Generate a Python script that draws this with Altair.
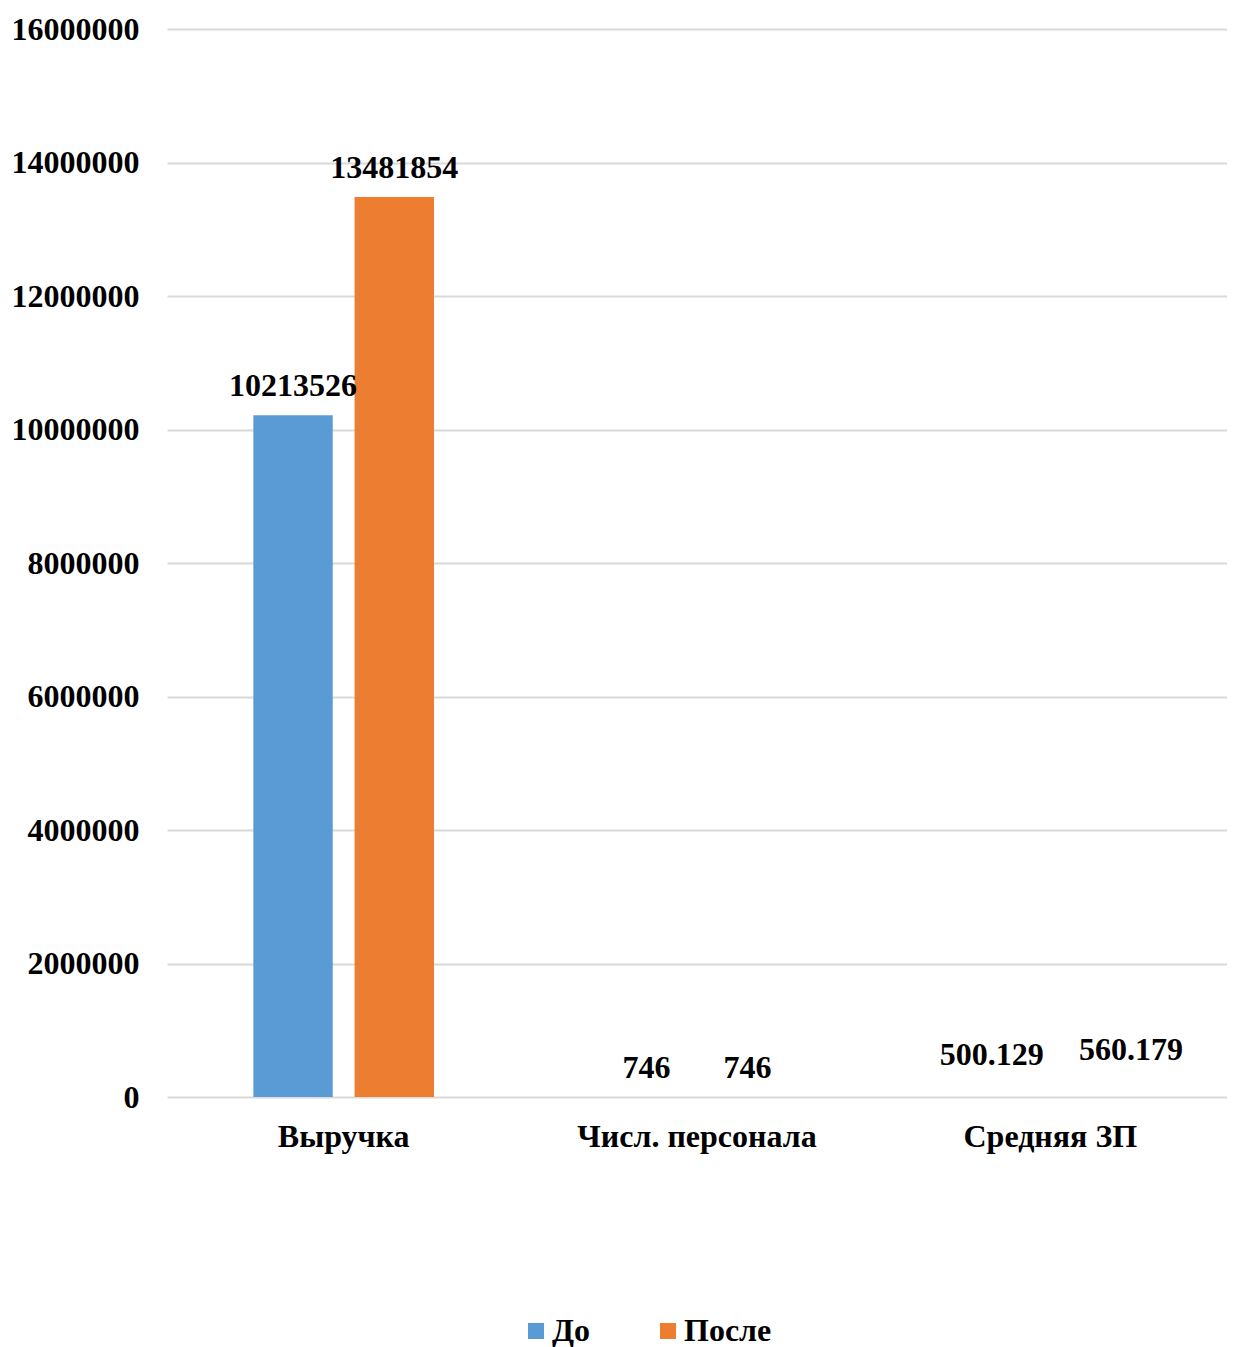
import altair as alt
import pandas as pd

categories = ["Выручка", "Числ. персонала", "Средняя ЗП"]
series = ["До", "После"]
values_before = [10213526, 746, 500.129]
values_after = [13481854, 746, 560.179]
colors = ["#5B9BD5", "#ED7D31"]
y_ticks = [0, 2000000, 4000000, 6000000, 8000000, 10000000, 12000000, 14000000, 16000000]

rows = []
for c, b, a in zip(categories, values_before, values_after):
    rows.append({"category": c, "series": series[0], "value": b, "label": str(b)})
    rows.append({"category": c, "series": series[1], "value": a, "label": str(a)})
df = pd.DataFrame(rows)

FONT = "Liberation Serif"
FS = 32

x_enc = alt.X("category:N", sort=categories,
              scale=alt.Scale(paddingInner=0, paddingOuter=0),
              axis=alt.Axis(title=None, labelAngle=0, domain=False, ticks=False, grid=False,
                            labelPadding=24, labelFontSize=FS, labelFont=FONT,
                            labelFontWeight="bold", labelColor="#000000", labelLimit=1000))
xo_enc = alt.XOffset("series:N", sort=series,
                     scale=alt.Scale(paddingInner=0.2157, paddingOuter=0.853))
y_enc = alt.Y("value:Q",
              scale=alt.Scale(domain=[0, 16000000], nice=False),
              axis=alt.Axis(title=None, values=y_ticks, format="d", domain=False,
                            ticks=False, labelPadding=28, labelFontSize=FS,
                            labelFont=FONT, labelFontWeight="bold",
                            labelColor="#000000", grid=True, gridColor="#D9D9D9",
                            gridWidth=2, minExtent=159))

base = alt.Chart(df)

bars = base.mark_bar().encode(
    x=x_enc, xOffset=xo_enc, y=y_enc,
    color=alt.Color("series:N", sort=series,
                    scale=alt.Scale(domain=series, range=colors),
                    legend=alt.Legend(title=None, orient="none", legendX=353, legendY=1286,
                                      direction="horizontal", symbolType="square",
                                      symbolSize=256, symbolStrokeWidth=0,
                                      labelFont=FONT, labelFontSize=FS,
                                      labelFontWeight="bold", labelColor="#000000",
                                      labelOffset=0, columnPadding=61, padding=0)),
)

text_style = dict(font=FONT, fontSize=FS, fontWeight="bold", color="#000000",
                  baseline="alphabetic", align="center")

labels_main = base.transform_filter(alt.datum.category != categories[2]).mark_text(
    dy=-19, **text_style).encode(x=x_enc, xOffset=xo_enc, y=y_enc, text="label:N")

labels_zp_before = base.transform_filter(
    (alt.datum.category == categories[2]) & (alt.datum.series == series[0])
).mark_text(dy=-32, dx=-8, **text_style).encode(x=x_enc, xOffset=xo_enc, y=y_enc, text="label:N")

labels_zp_after = base.transform_filter(
    (alt.datum.category == categories[2]) & (alt.datum.series == series[1])
).mark_text(dy=-37, dx=30, **text_style).encode(x=x_enc, xOffset=xo_enc, y=y_enc, text="label:N")

chart = alt.layer(bars, labels_main, labels_zp_before, labels_zp_after).properties(
    width=1060, height=1068,
    padding={"left": 0, "top": 5, "right": 0, "bottom": 0},
).configure(background="#FFFFFF").configure_view(stroke=None).configure_axisX(grid=False, domain=False)

chart.save("out.html", embed_options={"renderer": "svg", "actions": False})
